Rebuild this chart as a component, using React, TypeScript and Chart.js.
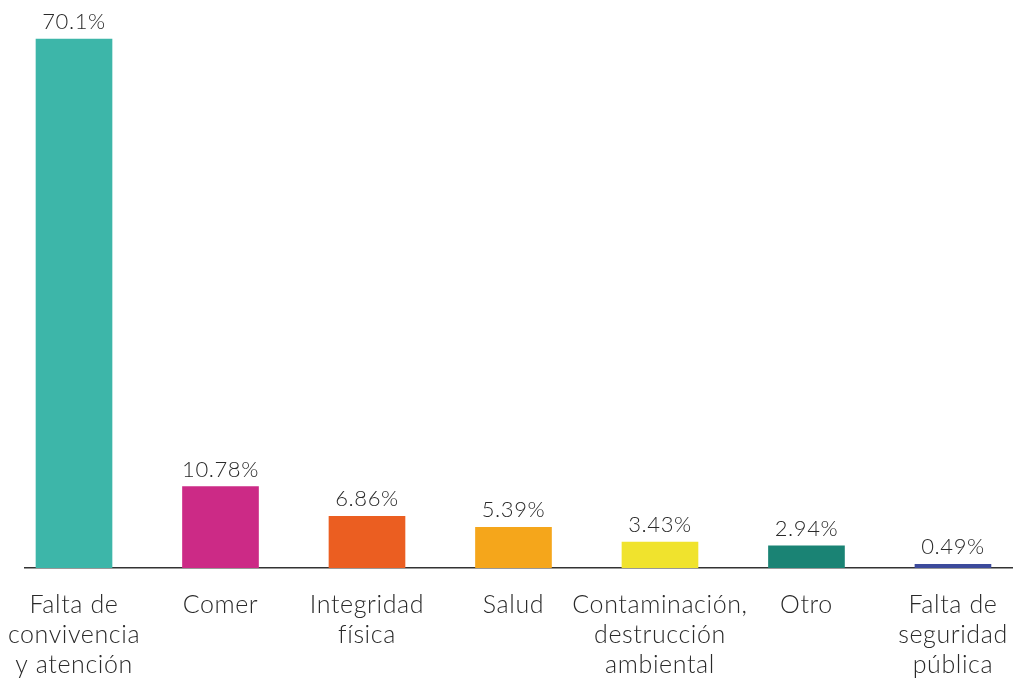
import React, { useEffect, useRef } from "react";
import { Chart, registerables } from "chart.js";
Chart.register(...registerables);

const categories: string[][] = [
  ["Falta de", "convivencia", "y atención"],
  ["Comer"],
  ["Integridad", "física"],
  ["Salud"],
  ["Contaminación,", "destrucción", "ambiental"],
  ["Otro"],
  ["Falta de", "seguridad", "pública"],
];
const values: number[] = [70.1, 10.78, 6.86, 5.39, 3.43, 2.94, 0.49];
const valueLabels: string[] = ["70.1%", "10.78%", "6.86%", "5.39%", "3.43%", "2.94%", "0.49%"];
const colors: string[] = ["#3db6a9", "#cc2a86", "#eb5e21", "#f5a61b", "#f0e32d", "#1a8374", "#3c4a9b"];

const FONT = "Lato, 'Open Sans', sans-serif";

export default function App() {
  const ref = useRef<HTMLCanvasElement | null>(null);
  useEffect(() => {
    if (!ref.current) return;
    const spacingPlugin = {
      id: "spacing",
      beforeInit(chart: any) {
        chart.ctx.letterSpacing = "0.6px";
      },
      beforeUpdate(chart: any) {
        chart.ctx.letterSpacing = "0.6px";
      },
      beforeDraw(chart: any) {
        chart.ctx.letterSpacing = "0.6px";
      },
    };
    const labelPlugin = {
      id: "valueLabels",
      afterDatasetsDraw(chart: any) {
        const ctx = chart.ctx;
        const meta = chart.getDatasetMeta(0);
        ctx.save();
        ctx.letterSpacing = "0.6px";
        ctx.font = `300 22px ${FONT}`;
        ctx.fillStyle = "#2a2a2a";
        ctx.textAlign = "center";
        ctx.textBaseline = "alphabetic";
        meta.data.forEach((bar: any, i: number) => {
          ctx.fillText(valueLabels[i], bar.x, bar.y - 10);
        });
        ctx.restore();
      },
    };
    const chart = new Chart(ref.current, {
      type: "bar",
      data: {
        datasets: [
          {
            data: values.map((v, i) => ({ x: i, y: v })),
            backgroundColor: colors,
            barThickness: 76,
            borderWidth: 0,
          },
        ],
      },
      options: {
        animation: false,
        responsive: false,
        layout: { padding: { left: 25, right: 2, top: 2, bottom: 0 } },
        plugins: { legend: { display: false }, tooltip: { enabled: false } },
        scales: {
          x: {
            type: "linear",
            offset: false,
            min: -0.3345,
            max: 6.403,
            grid: { display: false },
            border: { display: true, color: "#333", width: 1.5 },
            afterBuildTicks: (scale: any) => {
              scale.ticks = categories.map((_, i) => ({ value: i }));
            },
            afterFit: (scale: any) => {
              scale.height = 110;
              scale.paddingLeft = 0;
              scale.paddingRight = 0;
            },
            ticks: {
              autoSkip: false,
              maxRotation: 0,
              padding: 14,
              color: "#2a2a2a",
              font: { family: FONT, size: 25, weight: "300", lineHeight: 1.2 },
              callback: (v: any) => categories[Math.round(Number(v))] ?? "",
            },
          },
          y: {
            display: false,
            min: 0,
            max: 75,
          },
        },
      },
      plugins: [spacingPlugin, labelPlugin],
    } as any);
    return () => chart.destroy();
  }, []);
  return (
    <div style={{ position: "absolute", left: 0, top: 0, width: 1014, height: 678, background: "#fff" }}>
      <canvas ref={ref} width={1014} height={678} style={{ width: 1014, height: 678 }} />
    </div>
  );
}
